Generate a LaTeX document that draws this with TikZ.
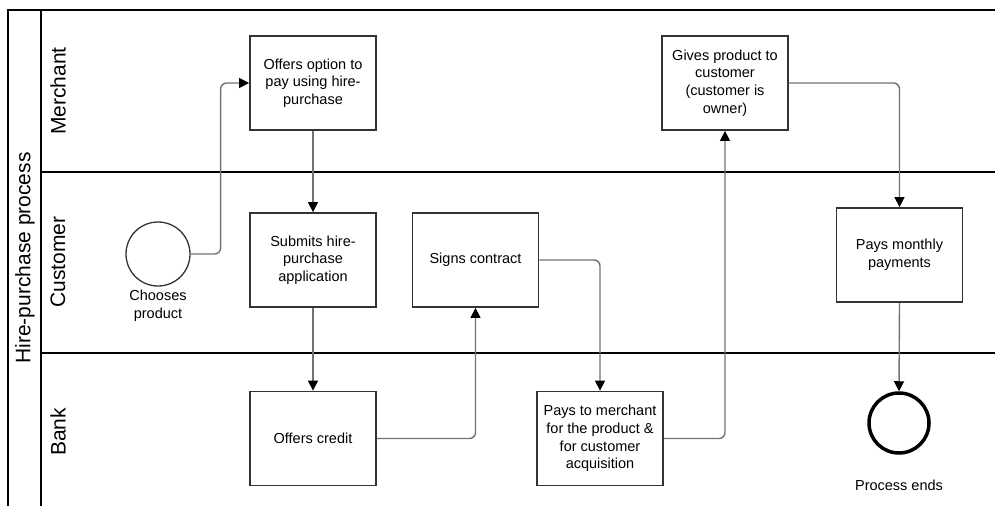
\documentclass[tikz,border=0pt]{standalone}
\usepackage{fontspec}
\setmainfont{Liberation Sans}
\usetikzlibrary{arrows.meta}
\begin{document}
\begin{tikzpicture}[x=1pt,y=-1pt,
  task/.style={draw=black!80, line width=1.8pt, minimum width=126pt, minimum height=94pt,
    align=center, font=\fontsize{14.5}{17.6}\selectfont, inner sep=2pt},
  lbl/.style={align=center, font=\fontsize{14.5}{17.6}\selectfont},
  lanelabel/.style={rotate=90, font=\fontsize{21}{25}\selectfont},
  flow/.style={draw=black!55, line width=1.4pt, rounded corners=6pt,
    -{Triangle[width=10pt,length=10pt,color=black]}},
  sep/.style={line width=2pt}]
\useasboundingbox (0,0) rectangle (995,506);

% pool frame and lanes
\draw[sep] (8,506) -- (8,10) -- (995,10);
\draw[sep] (41,10) -- (41,506);
\draw[sep] (41,172) -- (995,172);
\draw[sep] (41,353) -- (995,353);

\node[lanelabel] (pool) at (25,258) {Hire-purchase process};
\node[lanelabel] (lmerchant) at (58,91) {Merchant};
\node[lanelabel] (lcustomer) at (58,262) {Customer};
\node[lanelabel] (lbank) at (58,432) {Bank};

% events
\node[draw=black!80, line width=1.3pt, circle, minimum size=64pt] (start) at (158,254) {};
\node[lbl] (startlbl) at (158,306) {Chooses\\product};
\node[draw=black, line width=3.5pt, circle, minimum size=60pt] (end) at (899,423) {};
\node[lbl] (endlbl) at (899,485) {Process ends};

% tasks
\node[task] (offer) at (313,83) {Offers option to\\pay using hire-\\purchase};
\node[task] (submit) at (313,260) {Submits hire-\\purchase\\application};
\node[task] (sign) at (475.5,260) {Signs contract};
\node[task] (credit) at (313,438.5) {Offers credit};
\node[task] (pay) at (600,438.5) {Pays to merchant\\for the product \&\\for customer\\acquisition};
\node[task] (give) at (725,83) {Gives product to\\customer\\(customer is\\owner)};
\node[task] (monthly) at (899.5,255) {Pays monthly\\payments};

% flows
\draw[flow] (start.east) -- ++(30,0) |- (offer.west);
\draw[flow] (offer.south) -- (submit.north);
\draw[flow] (submit.south) -- (credit.north);
\draw[flow] (credit.east) -| (sign.south);
\draw[flow] (sign.east) -| (pay.north);
\draw[flow] (pay.east) -| (give.south);
\draw[flow] (give.east) -| (monthly.north);
\draw[flow] (monthly.south) -- (end.north);
\end{tikzpicture}
\end{document}
